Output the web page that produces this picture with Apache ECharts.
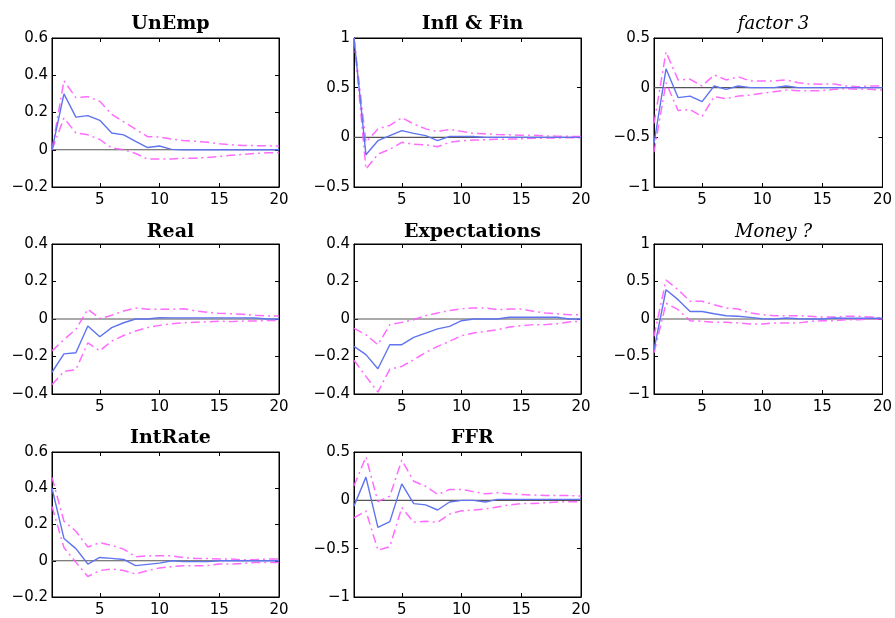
<!DOCTYPE html>
<html>
<head>
<meta charset="utf-8">
<script src="https://cdn.jsdelivr.net/npm/echarts@6/dist/echarts.min.js"></script>
<style>
  html, body { margin: 0; padding: 0; background: #fff; }
  #main { width: 895px; height: 618px; }
</style>
</head>
<body>
<div id="main"></div>
<script>
// horizons 1..20
var horizon = [1,2,3,4,5,6,7,8,9,10,11,12,13,14,15,16,17,18,19,20]
var xTicks = [5, 10, 15, 20]

// UnEmp
var unEmpIrf = [0, 0.30, 0.175, 0.183, 0.158, 0.09, 0.08, 0.045, 0.012, 0.02, 0.002, 0, 0, 0, 0, 0, 0, 0, 0, 0]
var unEmpUp  = [0, 0.37, 0.28, 0.285, 0.26, 0.19, 0.15, 0.11, 0.07, 0.068, 0.057, 0.05, 0.045, 0.04, 0.032, 0.027, 0.023, 0.022, 0.021, 0.02]
var unEmpLo  = [0, 0.17, 0.09, 0.08, 0.055, 0.01, 0, -0.02, -0.05, -0.05, -0.05, -0.045, -0.045, -0.042, -0.036, -0.03, -0.025, -0.02, -0.016, -0.015]
// Infl & Fin
var inflIrf = [1, -0.176, -0.034, 0.017, 0.068, 0.04, 0.017, -0.034, 0.01, 0.01, 0.008, 0, 0, 0, 0, 0, 0, 0, 0, 0]
var inflUp  = [1, -0.05, 0.085, 0.12, 0.197, 0.135, 0.085, 0.058, 0.08, 0.06, 0.04, 0.035, 0.028, 0.025, 0.022, 0.02, 0.015, 0.012, 0.01, 0.008]
var inflLo  = [1, -0.32, -0.17, -0.12, -0.05, -0.07, -0.075, -0.095, -0.05, -0.035, -0.027, -0.024, -0.02, -0.018, -0.015, -0.01, -0.008, -0.006, -0.005, -0.004]
// factor 3
var f3Irf = [-0.56, 0.19, -0.1, -0.085, -0.14, 0.017, -0.017, 0.017, 0, 0, 0, 0.017, 0, 0, 0, 0, 0, 0, 0, 0]
var f3Up  = [-0.36, 0.36, 0.078, 0.085, 0.017, 0.128, 0.078, 0.11, 0.067, 0.067, 0.067, 0.078, 0.05, 0.037, 0.035, 0.037, 0.017, 0.01, 0.017, 0.017]
var f3Lo  = [-0.65, 0.05, -0.23, -0.22, -0.29, -0.09, -0.11, -0.085, -0.075, -0.057, -0.04, -0.024, -0.03, -0.03, -0.03, -0.017, -0.01, -0.017, -0.017, -0.024]
// Real
var realIrf = [-0.284, -0.186, -0.18, -0.037, -0.095, -0.046, -0.02, 0, 0, 0.007, 0.006, 0.006, 0.006, 0.006, 0.006, 0.006, 0.006, 0.005, 0, 0]
var realUp  = [-0.17, -0.11, -0.055, 0.052, 0.002, 0.02, 0.043, 0.059, 0.052, 0.052, 0.052, 0.055, 0.043, 0.036, 0.03, 0.028, 0.025, 0.02, 0.016, 0.016]
var realLo  = [-0.35, -0.28, -0.27, -0.127, -0.17, -0.118, -0.088, -0.064, -0.046, -0.034, -0.025, -0.02, -0.017, -0.015, -0.012, -0.014, -0.011, -0.011, -0.008, -0.008]
// Expectations
var expIrf = [-0.146, -0.19, -0.265, -0.137, -0.137, -0.098, -0.075, -0.053, -0.039, -0.009, 0, 0, 0, 0.009, 0.009, 0.009, 0.009, 0.009, 0, 0]
var expUp  = [-0.05, -0.084, -0.137, -0.03, -0.018, -0.004, 0.018, 0.032, 0.045, 0.055, 0.059, 0.059, 0.05, 0.053, 0.053, 0.041, 0.032, 0.028, 0.023, 0.023]
var expLo  = [-0.22, -0.306, -0.39, -0.267, -0.253, -0.217, -0.178, -0.146, -0.119, -0.089, -0.075, -0.066, -0.057, -0.043, -0.036, -0.03, -0.03, -0.025, -0.016, -0.012]
// Money ?
var monIrf = [-0.41, 0.39, 0.258, 0.1, 0.1, 0.07, 0.044, 0.036, 0.022, 0.004, 0, 0.013, 0.004, 0, 0, 0.013, 0.01, 0.01, 0.01, 0.01]
var monUp  = [-0.23, 0.52, 0.39, 0.236, 0.236, 0.19, 0.147, 0.133, 0.08, 0.058, 0.044, 0.044, 0.044, 0.036, 0.027, 0.027, 0.036, 0.036, 0.027, 0.013]
var monLo  = [-0.45, 0.21, 0.124, -0.022, -0.031, -0.044, -0.044, -0.053, -0.067, -0.067, -0.053, -0.053, -0.053, -0.031, -0.022, -0.022, -0.009, -0.009, 0, 0]
// IntRate
var intIrf = [0.40, 0.123, 0.067, -0.018, 0.018, 0.013, 0.007, -0.027, -0.02, -0.013, 0, -0.005, -0.005, -0.005, 0, 0, 0, 0, 0, 0]
var intUp  = [0.46, 0.218, 0.163, 0.076, 0.1, 0.085, 0.064, 0.022, 0.027, 0.027, 0.027, 0.018, 0.013, 0.013, 0.009, 0.009, 0.005, 0.005, 0.009, 0.009]
var intLo  = [0.3, 0.073, -0.009, -0.087, -0.054, -0.045, -0.054, -0.073, -0.054, -0.04, -0.033, -0.027, -0.027, -0.027, -0.018, -0.018, -0.015, -0.009, -0.009, -0.009]
// FFR
var ffrIrf = [-0.06, 0.24, -0.28, -0.22, 0.17, -0.034, -0.047, -0.1, -0.017, 0, 0, -0.017, 0.01, 0.01, 0.01, 0.01, 0.01, 0.01, 0.01, 0.01]
var ffrUp  = [0.15, 0.45, -0.014, 0.044, 0.417, 0.197, 0.146, 0.061, 0.112, 0.112, 0.09, 0.068, 0.078, 0.068, 0.061, 0.055, 0.05, 0.05, 0.05, 0.044]
var ffrLo  = [-0.18, -0.11, -0.515, -0.48, -0.075, -0.227, -0.217, -0.227, -0.142, -0.108, -0.1, -0.09, -0.068, -0.047, -0.034, -0.034, -0.024, -0.017, -0.014, -0.014]

var panels = [
  {name: 'UnEmp', italic: false, irf: unEmpIrf, up: unEmpUp, lo: unEmpLo, min: -0.2, max: 0.6, step: 0.2},
  {name: 'Infl & Fin', italic: false, irf: inflIrf, up: inflUp, lo: inflLo, min: -0.5, max: 1, step: 0.5},
  {name: 'factor 3', italic: true, irf: f3Irf, up: f3Up, lo: f3Lo, min: -1, max: 0.5, step: 0.5},
  {name: 'Real', italic: false, irf: realIrf, up: realUp, lo: realLo, min: -0.4, max: 0.4, step: 0.2},
  {name: 'Expectations', italic: false, irf: expIrf, up: expUp, lo: expLo, min: -0.4, max: 0.4, step: 0.2},
  {name: 'Money ?', italic: true, irf: monIrf, up: monUp, lo: monLo, min: -1, max: 1, step: 0.5},
  {name: 'IntRate', italic: false, irf: intIrf, up: intUp, lo: intLo, min: -0.2, max: 0.6, step: 0.2},
  {name: 'FFR', italic: false, irf: ffrIrf, up: ffrUp, lo: ffrLo, min: -1, max: 0.5, step: 0.5}
]

var colLeft = [52, 354, 654]
var colWidth = [227, 227, 229]
var rowTop = [38, 244, 452]
var rowHeight = [149, 150, 147]
var titleTop = [10, 218, 424]

var blue = '#5f74ee'
var pink = '#ff5cff'
var dashDot = [9, 4, 2, 4]

function pairs(arr) {
  return horizon.map(function (h, i) { return [h, arr[i]] })
}
function fmt(v) {
  var s = String(Number(v.toFixed(2)))
  return s.replace('-', '\u2212')
}

var grids = [], xAxes = [], yAxes = [], titles = [], series = []
panels.forEach(function (p, i) {
  var r = Math.floor(i / 3), c = i % 3
  grids.push({left: colLeft[c], top: rowTop[r], width: colWidth[c], height: rowHeight[r],
    show: true, borderColor: '#000', borderWidth: 1, backgroundColor: 'transparent'})
  titles.push({
    text: p.name,
    left: colLeft[c] + colWidth[c] / 2,
    top: titleTop[r],
    textAlign: 'center',
    textStyle: {
      fontFamily: 'DejaVu Serif',
      fontWeight: p.italic ? 'normal' : 'bold',
      fontStyle: p.italic ? 'italic' : 'normal',
      fontSize: p.italic ? 18 : 19, color: '#000'
    }
  })
  var tickStyle = {show: true, inside: true, length: 4, lineStyle: {color: '#000', width: 1}}
  xAxes.push({gridIndex: i, type: 'value', min: 1, max: 20, position: 'bottom',
    axisLine: {show: true, onZero: false, lineStyle: {color: '#000', width: 1}},
    axisTick: Object.assign({customValues: xTicks}, tickStyle),
    axisLabel: {customValues: xTicks, color: '#000', fontSize: 15, fontFamily: 'DejaVu Sans', margin: 6},
    splitLine: {show: false}})
  xAxes.push({gridIndex: i, type: 'value', min: 1, max: 20, position: 'top',
    axisLine: {show: true, onZero: false, lineStyle: {color: '#000', width: 1}},
    axisTick: Object.assign({customValues: xTicks}, tickStyle),
    axisLabel: {show: false}, splitLine: {show: false}})
  yAxes.push({gridIndex: i, type: 'value', min: p.min, max: p.max, interval: p.step, position: 'left',
    axisLine: {show: true, onZero: false, lineStyle: {color: '#000', width: 1}},
    axisTick: tickStyle,
    axisLabel: {color: '#000', fontSize: 15, fontFamily: 'DejaVu Sans', margin: 4, formatter: fmt},
    splitLine: {show: false}})
  yAxes.push({gridIndex: i, type: 'value', min: p.min, max: p.max, interval: p.step, position: 'right',
    axisLine: {show: true, onZero: false, lineStyle: {color: '#000', width: 1}},
    axisTick: tickStyle, axisLabel: {show: false}, splitLine: {show: false}})

  var xi = i * 2, yi = i * 2
  series.push({type: 'line', xAxisIndex: xi, yAxisIndex: yi, data: pairs(horizon.map(function () { return 0 })),
    showSymbol: false, lineStyle: {color: '#555', width: 1.2}, z: 1})
  series.push({type: 'line', xAxisIndex: xi, yAxisIndex: yi, data: pairs(p.lo),
    showSymbol: false, lineStyle: {color: pink, width: 1.5, type: dashDot, opacity: 0.9}, z: 2})
  series.push({type: 'line', xAxisIndex: xi, yAxisIndex: yi, data: pairs(p.up),
    showSymbol: false, lineStyle: {color: pink, width: 1.5, type: dashDot, opacity: 0.9}, z: 2})
  series.push({type: 'line', xAxisIndex: xi, yAxisIndex: yi, data: pairs(p.irf),
    showSymbol: false, lineStyle: {color: blue, width: 1.4}, z: 3})
})

var chart = echarts.init(document.getElementById('main'))
chart.setOption({
  animation: false,
  backgroundColor: '#fff',
  title: titles,
  grid: grids,
  xAxis: xAxes,
  yAxis: yAxes,
  series: series
})
</script>
</body>
</html>
